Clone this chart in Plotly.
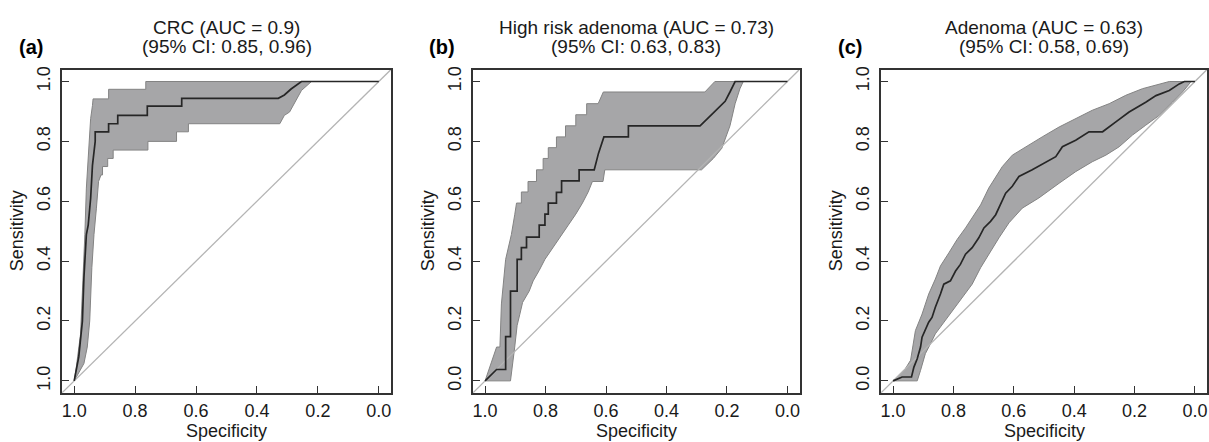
import plotly.graph_objects as go

# ---------------- data ----------------
titles_line1 = ["CRC (AUC = 0.9)", "High risk adenoma (AUC = 0.73)", "Adenoma (AUC = 0.63)"]
titles_line2 = ["(95% CI: 0.85, 0.96)", "(95% CI: 0.63, 0.83)", "(95% CI: 0.58, 0.69)"]
panel_labels = ["(a)", "(b)", "(c)"]
x_tick_vals = [0.0, 0.2, 0.4, 0.6, 0.8, 1.0]
x_tick_text = ["0.0", "0.2", "0.4", "0.6", "0.8", "1.0"]
y_tick_vals = [0.0, 0.2, 0.4, 0.6, 0.8, 1.0]
y_tick_text_a = ["1.0", "0.2", "0.4", "0.6", "0.8", "1.0"]
y_tick_text_bc = ["0.0", "0.2", "0.4", "0.6", "0.8", "1.0"]

# Panel (a) CRC
spec_a = [1.0, 0.985, 0.973, 0.968, 0.96, 0.954, 0.946, 0.94, 0.931, 0.931, 0.887, 0.887, 0.857, 0.857,
          0.76, 0.76, 0.647, 0.647, 0.33, 0.31, 0.288, 0.254, 0.0]
sens_a = [0.0, 0.08, 0.2, 0.345, 0.489, 0.52, 0.61, 0.72, 0.80, 0.832, 0.832, 0.859, 0.859, 0.887,
          0.887, 0.918, 0.918, 0.944, 0.944, 0.955, 0.975, 1.0, 1.0]
spec_a_hi = [1.0, 0.993, 0.979, 0.971, 0.965, 0.96, 0.951, 0.946, 0.94, 0.938, 0.887, 0.887, 0.765, 0.765, 0.0]
sens_a_hi = [0.0, 0.046, 0.157, 0.323, 0.489, 0.644, 0.788, 0.876, 0.92, 0.942, 0.942, 0.974, 0.974, 1.0, 1.0]
spec_a_lo = [1.0, 0.968, 0.957, 0.949, 0.942, 0.935, 0.927, 0.92, 0.912, 0.907, 0.907, 0.89, 0.89, 0.872, 0.872,
             0.758, 0.758, 0.664, 0.664, 0.625, 0.625, 0.325, 0.31, 0.293, 0.277, 0.254, 0.221, 0.0]
sens_a_lo = [0.0, 0.058, 0.113, 0.2, 0.378, 0.489, 0.577, 0.666, 0.688, 0.688, 0.716, 0.716, 0.743, 0.743, 0.771,
             0.771, 0.80, 0.80, 0.832, 0.832, 0.859, 0.859, 0.887, 0.898, 0.926, 0.97, 1.0, 1.0]

# Panel (b) High risk adenoma
spec_b = [1.0, 0.962, 0.932, 0.932, 0.916, 0.916, 0.894, 0.894, 0.88, 0.88, 0.863, 0.863, 0.821, 0.821,
          0.802, 0.802, 0.791, 0.791, 0.764, 0.764, 0.747, 0.747, 0.689, 0.689, 0.639, 0.625, 0.607,
          0.526, 0.526, 0.289, 0.25, 0.206, 0.19, 0.173, 0.0]
sens_b = [0.0, 0.038, 0.038, 0.148, 0.148, 0.3, 0.3, 0.406, 0.406, 0.445, 0.445, 0.48, 0.48, 0.52,
          0.52, 0.557, 0.557, 0.594, 0.594, 0.63, 0.63, 0.668, 0.668, 0.705, 0.705, 0.76, 0.815,
          0.815, 0.852, 0.852, 0.89, 0.934, 0.965, 1.0, 1.0]
spec_b_hi = [1.0, 0.962, 0.951, 0.946, 0.932, 0.913, 0.902, 0.896, 0.88, 0.88, 0.858, 0.858, 0.83, 0.83,
             0.808, 0.808, 0.791, 0.791, 0.764, 0.764, 0.734, 0.734, 0.70, 0.70, 0.664, 0.664, 0.626,
             0.609, 0.273, 0.24, 0.0]
sens_b_hi = [0.0, 0.113, 0.113, 0.257, 0.406, 0.489, 0.555, 0.594, 0.594, 0.631, 0.631, 0.666, 0.666, 0.705,
             0.705, 0.743, 0.743, 0.779, 0.779, 0.815, 0.815, 0.852, 0.852, 0.889, 0.889, 0.926, 0.926,
             0.965, 0.965, 1.0, 1.0]
spec_b_lo = [1.0, 0.916, 0.909, 0.902, 0.894, 0.885, 0.876, 0.854, 0.841, 0.821, 0.802, 0.777, 0.753,
             0.725, 0.70, 0.678, 0.659, 0.645, 0.61, 0.604, 0.284, 0.245, 0.217, 0.19, 0.173, 0.157,
             0.146, 0.0]
sens_b_lo = [0.0, 0.0, 0.046, 0.113, 0.185, 0.223, 0.262, 0.30, 0.334, 0.369, 0.406, 0.445, 0.48,
             0.52, 0.557, 0.594, 0.631, 0.666, 0.666, 0.705, 0.705, 0.743, 0.777, 0.852, 0.926, 0.976,
             1.0, 1.0]

# Panel (c) Adenoma
spec_c = [1.0, 0.97, 0.939, 0.931, 0.92, 0.909, 0.904, 0.893, 0.882, 0.871, 0.86, 0.843, 0.832, 0.81,
          0.793, 0.777, 0.76, 0.738, 0.716, 0.699, 0.677, 0.66, 0.644, 0.627, 0.605, 0.583, 0.539, 0.494,
          0.461, 0.439, 0.395, 0.351, 0.306, 0.262, 0.218, 0.163, 0.129, 0.085, 0.052, 0.035, 0.0]
sens_c = [0.0, 0.013, 0.013, 0.046, 0.074, 0.113, 0.146, 0.174, 0.196, 0.212, 0.246, 0.29, 0.323, 0.334,
          0.367, 0.389, 0.423, 0.445, 0.478, 0.511, 0.533, 0.555, 0.588, 0.627, 0.65, 0.683, 0.705, 0.732,
          0.749, 0.782, 0.804, 0.832, 0.832, 0.865, 0.898, 0.931, 0.953, 0.97, 0.992, 1.0, 1.0]
spec_c_hi = [1.0, 0.959, 0.942, 0.926, 0.904, 0.882, 0.86, 0.843, 0.815, 0.788, 0.76, 0.738, 0.71, 0.683,
             0.66, 0.638, 0.605, 0.561, 0.506, 0.45, 0.395, 0.34, 0.284, 0.229, 0.174, 0.118, 0.085, 0.0]
sens_c_hi = [0.0, 0.041, 0.069, 0.168, 0.223, 0.29, 0.34, 0.384, 0.428, 0.472, 0.511, 0.544, 0.588, 0.644,
             0.683, 0.716, 0.754, 0.782, 0.815, 0.848, 0.876, 0.904, 0.926, 0.954, 0.976, 0.992, 1.0, 1.0]
spec_c_lo = [1.0, 0.92, 0.909, 0.893, 0.876, 0.86, 0.837, 0.804, 0.771, 0.738, 0.71, 0.683, 0.649, 0.616,
             0.572, 0.517, 0.45, 0.395, 0.34, 0.295, 0.251, 0.207, 0.163, 0.118, 0.074, 0.041, 0.019, 0.013, 0.0]
sens_c_lo = [0.0, 0.0, 0.035, 0.091, 0.124, 0.157, 0.19, 0.235, 0.279, 0.323, 0.378, 0.423, 0.478, 0.528,
             0.577, 0.611, 0.66, 0.699, 0.732, 0.754, 0.782, 0.821, 0.854, 0.887, 0.931, 0.965, 0.992, 1.0, 1.0]

curves = [
    (spec_a, sens_a, spec_a_hi, sens_a_hi, spec_a_lo, sens_a_lo, y_tick_text_a),
    (spec_b, sens_b, spec_b_hi, sens_b_hi, spec_b_lo, sens_b_lo, y_tick_text_bc),
    (spec_c, sens_c, spec_c_hi, sens_c_hi, spec_c_lo, sens_c_lo, y_tick_text_bc),
]

# ---------------- layout geometry (pixels) ----------------
W, H = 1209, 442
boxes_x = [(62, 391), (473, 799.5), (881, 1207)]
box_top, box_bot = 67, 392.5
FONT = "Liberation Sans, Arial, Helvetica, sans-serif"
TXT = "#1a1a1a"


def px(xp):
    return xp / W


def py(yp):
    return 1 - yp / H


fig = go.Figure()
annotations = []
layout_axes = {}

for i, (sx, sy, shx, shy, slx, sly, ytext) in enumerate(curves):
    n = "" if i == 0 else str(i + 1)
    xa, ya = "x" + n, "y" + n
    # CI band polygon
    band_x = list(shx) + list(reversed(slx))
    band_y = list(shy) + list(reversed(sly))
    fig.add_trace(go.Scatter(x=band_x, y=band_y, mode="lines", fill="toself",
                             fillcolor="#a6a6a8", line=dict(color="#838383", width=1),
                             xaxis=xa, yaxis=ya, showlegend=False, hoverinfo="skip"))
    # diagonal reference line
    fig.add_trace(go.Scatter(x=[1.04, -0.04], y=[-0.04, 1.04], mode="lines",
                             line=dict(color="#b4b4b4", width=1.3),
                             xaxis=xa, yaxis=ya, showlegend=False, hoverinfo="skip"))
    # ROC curve
    fig.add_trace(go.Scatter(x=sx, y=sy, mode="lines", line=dict(color="#262626", width=1.7),
                             xaxis=xa, yaxis=ya, showlegend=False))

    x0, x1 = boxes_x[i]
    common = dict(showgrid=False, zeroline=False, showline=True, linecolor="#333333", linewidth=1.6,
                  mirror=True, ticks="inside", ticklen=7, tickwidth=1.2, tickcolor="#333333",
                  tickfont=dict(family=FONT, size=18, color=TXT))
    layout_axes["xaxis" + n] = dict(domain=[px(x0), px(x1)], range=[1.04, -0.04], anchor=ya,
                                    tickvals=x_tick_vals, ticktext=x_tick_text,
                                    ticklabelstandoff=1, **common)
    layout_axes["yaxis" + n] = dict(domain=[py(box_bot), py(box_top)], range=[-0.04, 1.04], anchor=xa,
                                    tickvals=y_tick_vals, ticktext=ytext, tickangle=-90,
                                    ticklabelstandoff=3, **common)

    cx = (x0 + x1) / 2
    annotations.append(dict(x=px(cx), y=py(25), xref="paper", yref="paper", text=titles_line1[i],
                            showarrow=False, xanchor="center", yanchor="middle",
                            font=dict(family=FONT, size=19, color=TXT)))
    annotations.append(dict(x=px(cx), y=py(44), xref="paper", yref="paper", text=titles_line2[i],
                            showarrow=False, xanchor="center", yanchor="middle",
                            font=dict(family=FONT, size=19, color=TXT)))
    annotations.append(dict(x=px(x0 - 31), y=py(44), xref="paper", yref="paper",
                            text="<b>" + panel_labels[i] + "</b>", showarrow=False,
                            xanchor="center", yanchor="middle",
                            font=dict(family=FONT, size=20, color="#000000")))
    annotations.append(dict(x=px(cx), y=py(431), xref="paper", yref="paper", text="Specificity",
                            showarrow=False, xanchor="center", yanchor="middle",
                            font=dict(family=FONT, size=18, color=TXT)))
    annotations.append(dict(x=px(x0 - 45), y=py((box_top + box_bot) / 2), xref="paper", yref="paper",
                            text="Sensitivity", textangle=-90, showarrow=False,
                            xanchor="center", yanchor="middle",
                            font=dict(family=FONT, size=18, color=TXT)))

fig.update_layout(width=W, height=H, margin=dict(l=0, r=0, t=0, b=0),
                  paper_bgcolor="white", plot_bgcolor="white",
                  annotations=annotations, showlegend=False, **layout_axes)

fig.write_html("out.html", config={"displayModeBar": False},
               post_script="document.body.style.margin='0px';document.body.style.overflow='hidden';")
